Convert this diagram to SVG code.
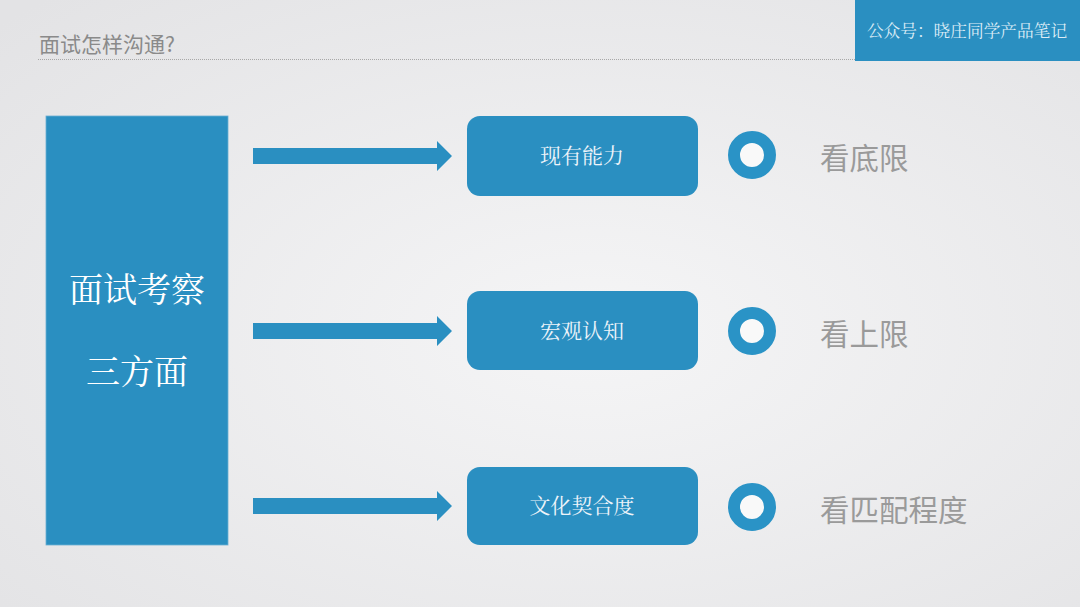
<svg xmlns="http://www.w3.org/2000/svg" width="1080" height="607" viewBox="0 0 1080 607">
<defs>
<radialGradient id="bg" cx="0.55" cy="0.55" r="0.75">
<stop offset="0" stop-color="#f5f5f6"/>
<stop offset="1" stop-color="#e3e3e5"/>
</radialGradient>
</defs>
<style>
.blue{fill:#2a8fc1}
.serif{font-family:"Noto Serif CJK SC","Liberation Serif","Noto Sans CJK SC",serif}
.sans{font-family:"Noto Sans CJK SC","Noto Sans",sans-serif}
.boxt{fill:#eef4fa;font-size:21px;text-anchor:middle}
.ring{fill:#f9f9f9;stroke:#2a93c6;stroke-width:12}
.lbl{fill:#9a9a9a;font-size:29.5px}
.arrow{fill:#2a8fc1}
</style>
<rect width="1080" height="607" fill="url(#bg)"/>
<g id="title">
<text x="39" y="52" class="sans" font-size="21" fill="#8a8a8a">面试怎样沟通?</text>
<line x1="38" y1="59.5" x2="855" y2="59.5" stroke="#a8a8a8" stroke-width="1" stroke-dasharray="1 1"/>
</g>
<g id="account">
<rect x="855" y="0" width="225" height="61" class="blue"/>
<text x="967" y="37" class="serif" font-size="16.7" fill="#dcecf6" text-anchor="middle">公众号：晓庄同学产品笔记</text>
</g>
<g id="main">
<rect x="46" y="116" width="182" height="429" class="blue" stroke="#6aaed3" stroke-width="0.8"/>
<text x="137" y="302" class="serif" font-size="34" fill="#ffffff" text-anchor="middle">面试考察</text>
<text x="137" y="384" class="serif" font-size="34" fill="#ffffff" text-anchor="middle">三方面</text>
</g>
<g id="connectors">
<polygon class="arrow" points="253,148 437,148 437,141 452,156 437,171 437,164 253,164"/>
<polygon class="arrow" points="253,323 437,323 437,316 452,331 437,346 437,339 253,339"/>
<polygon class="arrow" points="253,498 437,498 437,491 452,506 437,521 437,514 253,514"/>
</g>
<g id="node1">
<rect x="467" y="116" width="231" height="80" rx="13" class="blue"/>
<text x="582" y="163" class="boxt serif">现有能力</text>
</g>
<g id="node2">
<rect x="467" y="291" width="231" height="79" rx="13" class="blue"/>
<text x="582" y="338" class="boxt serif">宏观认知</text>
</g>
<g id="node3">
<rect x="467" y="467" width="231" height="78" rx="13" class="blue"/>
<text x="582" y="513" class="boxt serif">文化契合度</text>
</g>
<g id="result1">
<circle cx="752" cy="155" r="18" class="ring"/>
<text x="820" y="169" class="lbl sans">看底限</text>
</g>
<g id="result2">
<circle cx="752" cy="331" r="18" class="ring"/>
<text x="820" y="345" class="lbl sans">看上限</text>
</g>
<g id="result3">
<circle cx="752" cy="507" r="18" class="ring"/>
<text x="820" y="521" class="lbl sans">看匹配程度</text>
</g>
</svg>
